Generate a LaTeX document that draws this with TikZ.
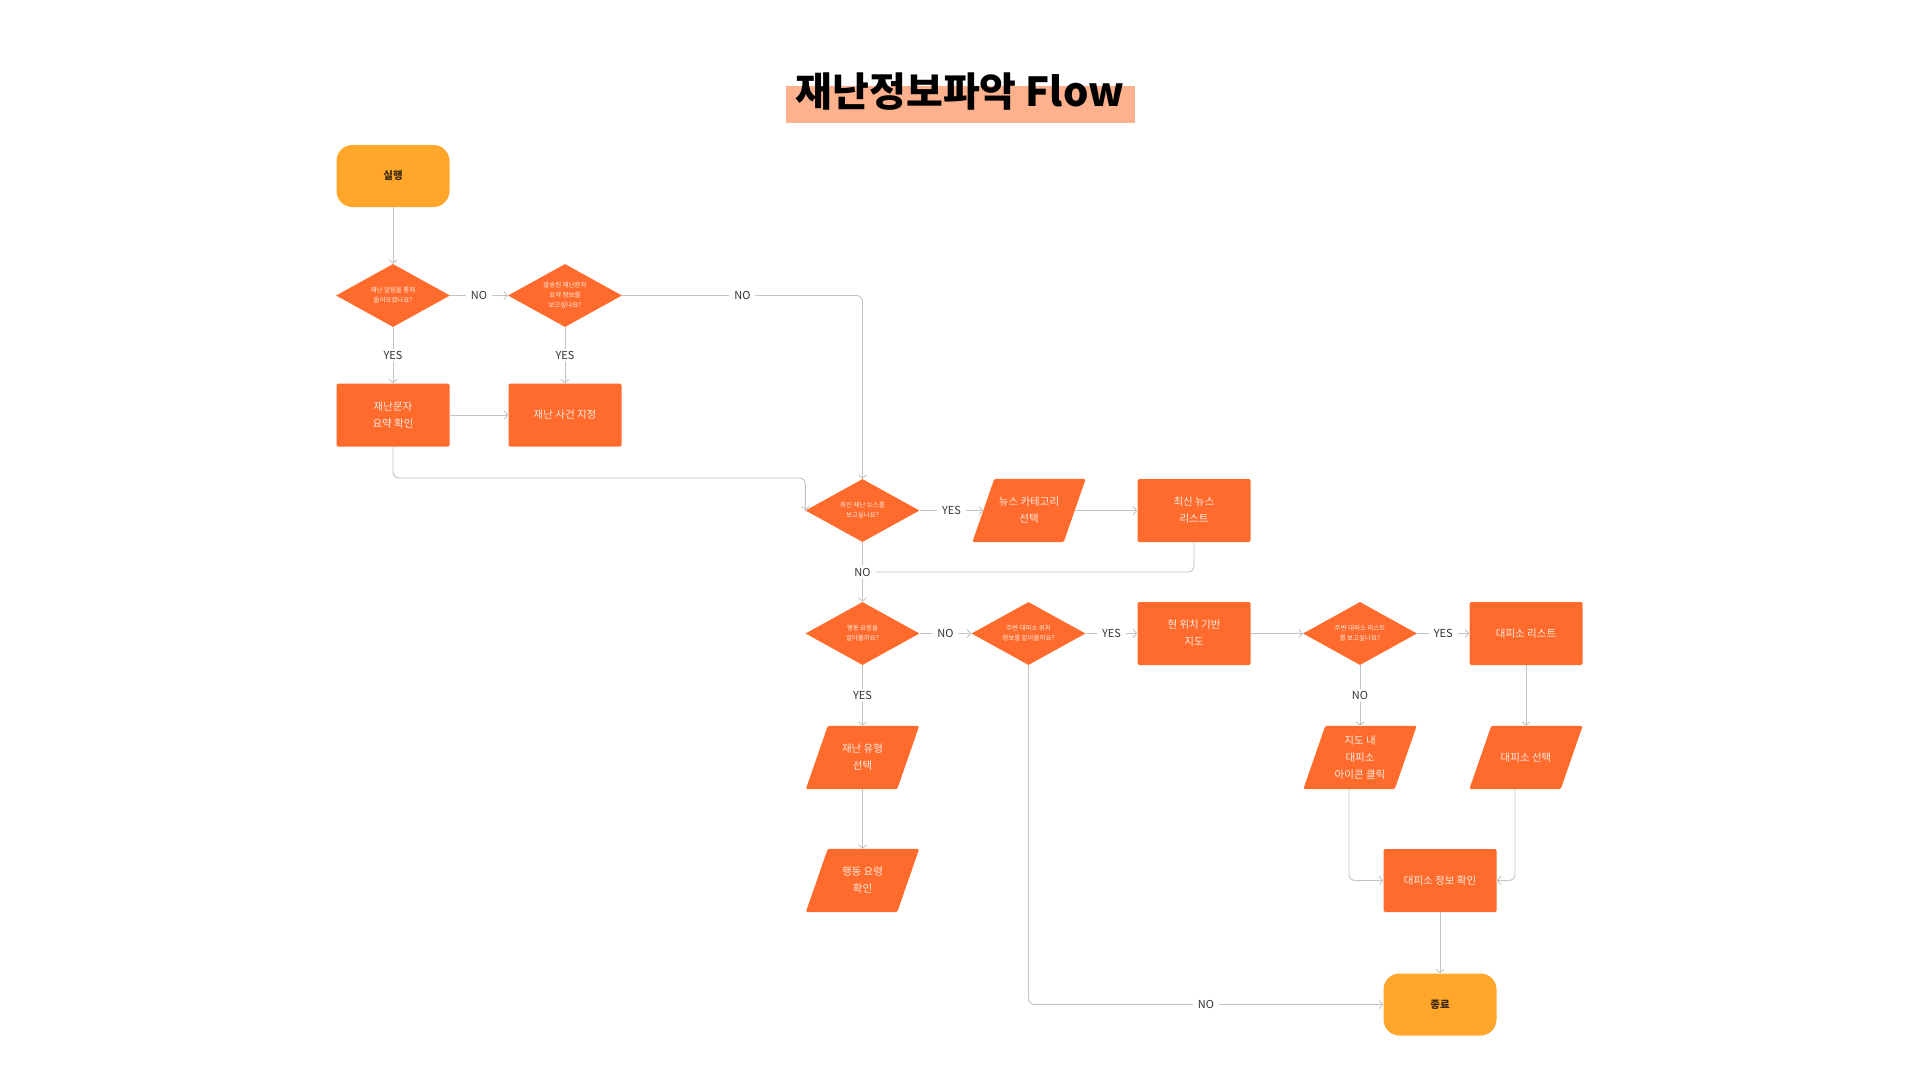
\documentclass[tikz,border=0pt]{standalone}
\usepackage{fontspec}
\setmainfont{Noto Sans CJK KR}
\usepackage{xcolor}
\usepackage{tikz}
\usetikzlibrary{arrows.meta,shapes.geometric,backgrounds}

\definecolor{boxorange}{RGB}{255,107,44}
\definecolor{endorange}{RGB}{255,166,43}
\definecolor{titlebg}{RGB}{253,177,140}
\definecolor{boxtext}{RGB}{255,236,226}
\definecolor{endtext}{RGB}{59,42,16}
\definecolor{linegray}{RGB}{196,196,196}
\definecolor{labeltext}{RGB}{51,51,51}

\tikzset{
  box/.style={rectangle, fill=boxorange, minimum width=113pt, minimum height=63pt,
    inner sep=0pt, align=center, text=boxtext, rounded corners=1.5pt,
    font=\fontsize{10.5}{17}\selectfont},
  par/.style={rectangle, minimum width=91pt, minimum height=63pt,
    inner sep=0pt, align=center, text=boxtext, font=\fontsize{10.5}{17}\selectfont},
  ask/.style={diamond, aspect=1.8, fill=boxorange, minimum width=114pt, minimum height=63pt,
    inner sep=0pt, align=center, text=boxtext, font=\fontsize{6.5}{10}\selectfont},
  term/.style={rectangle, rounded corners=16pt, fill=endorange, minimum width=113pt,
    minimum height=62pt, text=endtext, font=\fontsize{10.5}{13}\bfseries\selectfont},
  lbl/.style={fill=white, text=labeltext, inner xsep=5pt, inner ysep=2pt,
    font=\fontsize{11}{13}\selectfont},
  link/.style={draw=linegray, line width=0.9pt, rounded corners=6pt},
  >={Straight Barb[length=3.5pt,width=8pt]}
}

\begin{document}
\begin{tikzpicture}[x=1pt,y=-1pt]
	\useasboundingbox (0,0) rectangle (1920,1080);

	% \draw title
	\fill[titlebg] (786,86) rectangle (1135,123);
	\node[font=\fontsize{40}{48}\bfseries\selectfont] (title) at (960,92) {재난정보파악 Flow};

	% \draw nodes
	\node[term] (start) at (393,176) {실행};
	\node[ask] (q1) at (393,295.5) {재난 알림을 통해\\들어오셨나요?};
	\node[ask] (q2) at (565,295.5) {발송된 재난문자\\요약 정보를\\보고싶나요?};
	\node[box] (sumbox) at (393,415) {재난문자\\요약 확인};
	\node[box] (eventbox) at (565,415) {재난 사건 지정};

	\node[ask] (q3) at (862.5,510.5) {최신 재난 뉴스를\\보고싶나요?};
	\node[par] (catpar) at (1029,510.5) {뉴스 카테고리\\선택};
	\node[box] (newsbox) at (1194,510.5) {최신 뉴스\\리스트};

	\node[ask] (q4) at (862.5,633.5) {행동 요령을\\알아볼까요?};
	\node[ask] (q5) at (1028.5,633.5) {주변 대피소 위치\\정보를 알아볼까요?};
	\node[box] (mapbox) at (1194,633.5) {현 위치 기반\\지도};
	\node[ask] (q6) at (1360,633.5) {주변 대피소 리스트\\를 보고싶나요?};
	\node[box] (shelterbox) at (1526,633.5) {대피소 리스트};

	\node[par] (typepar) at (862.5,757.5) {재난 유형\\선택};
	\node[par] (guidepar) at (862.5,880.5) {행동 요령\\확인};
	\node[par] (clickpar) at (1360,757.5) {지도 내\\대피소\\아이콘 클릭};
	\node[par] (selectpar) at (1526,757.5) {대피소 선택};
	\node[box] (infobox) at (1440,880.5) {대피소 정보 확인};
	\node[term] (stop) at (1440,1004.5) {종료};

	% \draw parallelogram fills behind the text
	\begin{scope}[on background layer]
	  \fill[white] (0,0) rectangle (1920,1080);
	  \foreach \n in {catpar,typepar,guidepar,clickpar,selectpar} {
	    \fill[boxorange, rounded corners=1.5pt] ([xshift=11pt]\n.north west) -- ([xshift=11pt]\n.north east)
	      -- ([xshift=-11pt]\n.south east) -- ([xshift=-11pt]\n.south west) -- cycle;
	  }
	\end{scope}

	% \draw top part
	\draw[link,->] (start) -- (q1);
	\draw[link,->] (q1) -- node[lbl,midway] (no1) {NO} (q2);
	\draw[link,->] (q1) -- node[lbl,midway] (yes1) {YES} (sumbox);
	\draw[link,->] (q2) -- node[lbl,midway] (yes2) {YES} (eventbox);
	\draw[link,->] (sumbox) -- (eventbox);
	\draw[link,->] (q2.east) -| node[lbl,pos=0.25] (no2) {NO} (q3.north);
	\draw[link,->] (sumbox.south) |- ([yshift=32.5pt]q3.west) -- (q3.west);

	% \draw news part
	\draw[link,->] (q3) -- node[lbl,midway] (yes3) {YES} (catpar.west);
	\draw[link,->] (catpar.east) -- (newsbox);
	\draw[link,->] (q3) -- node[lbl,midway] (no3) {NO} (q4);
	\draw[link] (newsbox.south) |- (no3.east);

	% \draw shelter part
	\draw[link,->] (q4) -- node[lbl,midway] (no4) {NO} (q5);
	\draw[link,->] (q5) -- node[lbl,midway] (yes5) {YES} (mapbox);
	\draw[link,->] (mapbox) -- (q6);
	\draw[link,->] (q6) -- node[lbl,midway] (yes6) {YES} (shelterbox);
	\draw[link,->] (q4) -- node[lbl,midway] (yes4) {YES} (typepar);
	\draw[link,->] (typepar) -- (guidepar);
	\draw[link,->] (q6) -- node[lbl,midway] (no6) {NO} (clickpar);
	\draw[link,->] (shelterbox) -- (selectpar);
	\draw[link,->] ([xshift=-11pt]clickpar.south) |- (infobox.west);
	\draw[link,->] ([xshift=-11pt]selectpar.south) |- (infobox.east);
	\draw[link,->] (infobox) -- (stop);
	\draw[link,->] (q5.south) |- node[lbl,pos=0.75] (no5) {NO} (stop.west);
\end{tikzpicture}
\end{document}
